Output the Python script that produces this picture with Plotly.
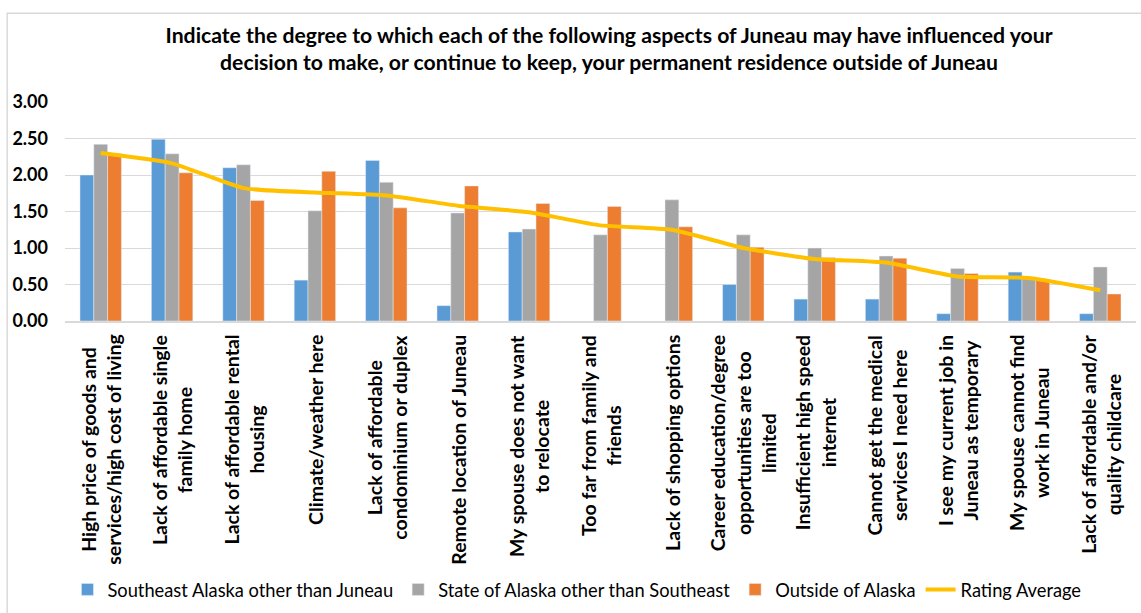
import plotly.graph_objects as go

# %%
# Dados
categorias = [
    "High price of goods and<br>services/high cost of living",
    "Lack of affordable single<br>family home",
    "Lack of affordable rental<br>housing",
    "Climate/weather here",
    "Lack of affordable<br>condominium or duplex",
    "Remote location of Juneau",
    "My spouse does not want<br>to relocate",
    "Too far from family and<br>friends",
    "Lack of shopping options",
    "Career education/degree<br>opportunities are too<br>limited",
    "Insufficient high speed<br>internet",
    "Cannot get the medical<br>services I need here",
    "I see my current job in<br>Juneau as temporary",
    "My spouse cannot find<br>work in Juneau",
    "Lack of affordable and/or<br>quality childcare",
]

southeast = [2.00, 2.49, 2.10, 0.56, 2.20, 0.21, 1.22, None, None, 0.50, 0.30, 0.30, 0.10, 0.67, 0.10]
state_ak = [2.42, 2.29, 2.14, 1.51, 1.90, 1.48, 1.26, 1.18, 1.66, 1.18, 1.00, 0.89, 0.72, 0.58, 0.74]
outside_ak = [2.29, 2.03, 1.65, 2.05, 1.55, 1.85, 1.61, 1.57, 1.29, 1.01, 0.87, 0.86, 0.65, 0.57, 0.37]
rating_avg = [2.30, 2.16, 1.82, 1.76, 1.72, 1.58, 1.49, 1.31, 1.25, 1.00, 0.85, 0.80, 0.61, 0.59, 0.42]

titulo = ("<b>Indicate the degree to which each of the following aspects of Juneau may have influenced your<br>"
          "decision to make, or continue to keep, your permanent residence outside of Juneau</b>")

fonte = "Lato"

# %%
fig = go.Figure()
fig.add_trace(go.Bar(x=categorias, y=southeast, name="Southeast Alaska other than Juneau",
                     marker_color="#5B9BD5"))
fig.add_trace(go.Bar(x=categorias, y=state_ak, name="State of Alaska other than Southeast",
                     marker_color="#A5A5A5"))
fig.add_trace(go.Bar(x=categorias, y=outside_ak, name="Outside of Alaska",
                     marker_color="#ED7D31"))
fig.add_trace(go.Scatter(x=categorias, y=rating_avg, name="Rating Average", mode="lines",
                         line=dict(color="#FFC000", width=4, shape="spline", smoothing=0.5)))

# rótulos do eixo x giradas, centralizadas como no Excel
for c in categorias:
    fig.add_annotation(x=c, y=0, xref="x", yref="paper", text="<b>" + c + "</b>",
                       textangle=-90, yanchor="top", xanchor="center", yshift=-12,
                       showarrow=False, align="center",
                       font=dict(family=fonte, size=19.5, color="#000000"))

# borda do gráfico
fig.add_shape(type="rect", xref="paper", yref="paper", x0=-0.054, x1=1.2, y0=-2, y1=1.405,
              line=dict(color="#D9D9D9", width=1.5), layer="below")

fig.update_layout(
    width=1141, height=613,
    margin=dict(l=65, r=5, t=102, b=284),
    paper_bgcolor="white", plot_bgcolor="white",
    barmode="group", bargap=0.42, bargroupgap=0,
    font=dict(family=fonte, color="#000000"),
    title=dict(text=titulo, x=0.508, xref="paper", xanchor="center",
               y=0.93, yref="container", yanchor="middle",
               font=dict(family=fonte, size=21.2, color="#000000")),
    legend=dict(orientation="h", x=0.478, xanchor="center", y=-1.226, yanchor="middle",
                font=dict(family=fonte, size=18.3, color="#000000"), traceorder="normal"),
    showlegend=True,
)
fig.update_xaxes(showticklabels=False, showline=True, linecolor="#D9D9D9", linewidth=1.5,
                 showgrid=False, ticks="")
fig.update_yaxes(range=[0, 3], dtick=0.5, tickformat=".2f", showgrid=True, gridcolor="#D9D9D9",
                 gridwidth=1, zeroline=False, showline=False, ticklabelstandoff=16,
                 tickfont=dict(family=fonte, size=18, color="#000000", weight="bold"))

# sem a margem padrão do body, para a figura começar no canto da página
fig.write_html("out.html", config={"displayModeBar": False},
               post_script="document.body.style.margin='0';")
